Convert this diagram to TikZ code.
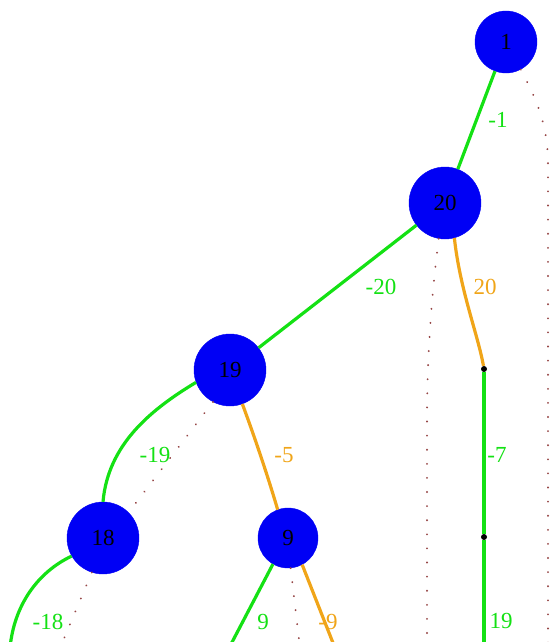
\documentclass[tikz,border=0pt]{standalone}
\usepackage{fontspec}
\setmainfont{Liberation Serif}
\definecolor{eg}{RGB}{20,225,20}
\definecolor{eo}{RGB}{240,165,25}
\definecolor{dt}{RGB}{150,70,70}
\definecolor{nb}{RGB}{0,0,245}
\begin{document}
\begin{tikzpicture}[x=1pt,y=-1pt,
  vert/.style={circle,fill=nb,draw=nb,inner sep=0pt,font=\fontsize{23}{23}\selectfont,text=black},
  junc/.style={circle,fill=black,inner sep=0pt,minimum size=6pt},
  gedge/.style={draw=eg,line width=3.2pt},
  oedge/.style={draw=eo,line width=3.2pt},
  dedge/.style={draw=dt,line width=2pt,line cap=round,dash pattern=on 0.1pt off 14pt},
  glab/.style={text=eg,font=\fontsize{23}{23}\selectfont},
  olab/.style={text=eo,font=\fontsize{23}{23}\selectfont}]
\useasboundingbox (0,0) rectangle (554,642);
% vertices
\node[vert,minimum size=62pt] (n1) at (506,42) {1};
\node[vert,minimum size=72pt] (n20) at (445,203) {20};
\node[vert,minimum size=72pt] (n19) at (230,370) {19};
\node[vert,minimum size=72pt] (n18) at (103,538) {18};
\node[vert,minimum size=60pt] (n9) at (288,538) {9};
\node[junc] (d1) at (484,369) {};
\node[junc] (d2) at (484,537) {};
% free ends
\coordinate (b1) at (484,648);
\coordinate (b18) at (10,648);
\coordinate (b9l) at (229,648);
\coordinate (b9r) at (335,648);
\coordinate (bd1) at (548,648);
\coordinate (bd20) at (427,648);
\coordinate (bd18) at (60,648);
\coordinate (bd9) at (300,648);
% dotted edges
\draw[dedge] (n1.-62) .. controls (540,105) and (548,130) .. (548,165) -- (bd1);
\draw[dedge] (n20.-100) .. controls (431,300) and (427,360) .. (427,420) -- (bd20);
\draw[dedge] (n19.-118) -- (n18.45);
\draw[dedge] (n18.-108) -- (bd18);
\draw[dedge] (n9.-85) -- (bd9);
% solid edges
\draw[gedge] (n1) -- (n20);
\draw[gedge] (n20) -- (n19);
\draw[oedge] (n20.-75) .. controls (460,290) and (478,335) .. (d1);
\draw[gedge] (d1) -- (d2);
\draw[gedge] (d2) -- (b1);
\draw[gedge] (n19.200) .. controls (150,410) and (108,445) .. (n18.north);
\draw[oedge] (n19.-70) .. controls (252,430) and (266,470) .. (n9.110);
\draw[gedge] (n18.210) .. controls (38,572) and (14,605) .. (b18);
\draw[gedge] (n9.-120) -- (b9l);
\draw[oedge] (n9.-62) -- (b9r);
% labels
\node[glab] (l1) at (498,120) {-1};
\node[glab] (l20) at (381,287) {-20};
\node[olab] (lo20) at (485,287) {20};
\node[glab] (l7) at (497,455) {-7};
\node[glab] (l19b) at (501,621) {19};
\node[glab] (l19) at (155,455) {-19};
\node[olab] (l5) at (284,455) {-5};
\node[glab] (l18) at (48,622) {-18};
\node[glab] (l9) at (263,622) {9};
\node[olab] (l9m) at (328,622) {-9};
\end{tikzpicture}
\end{document}
